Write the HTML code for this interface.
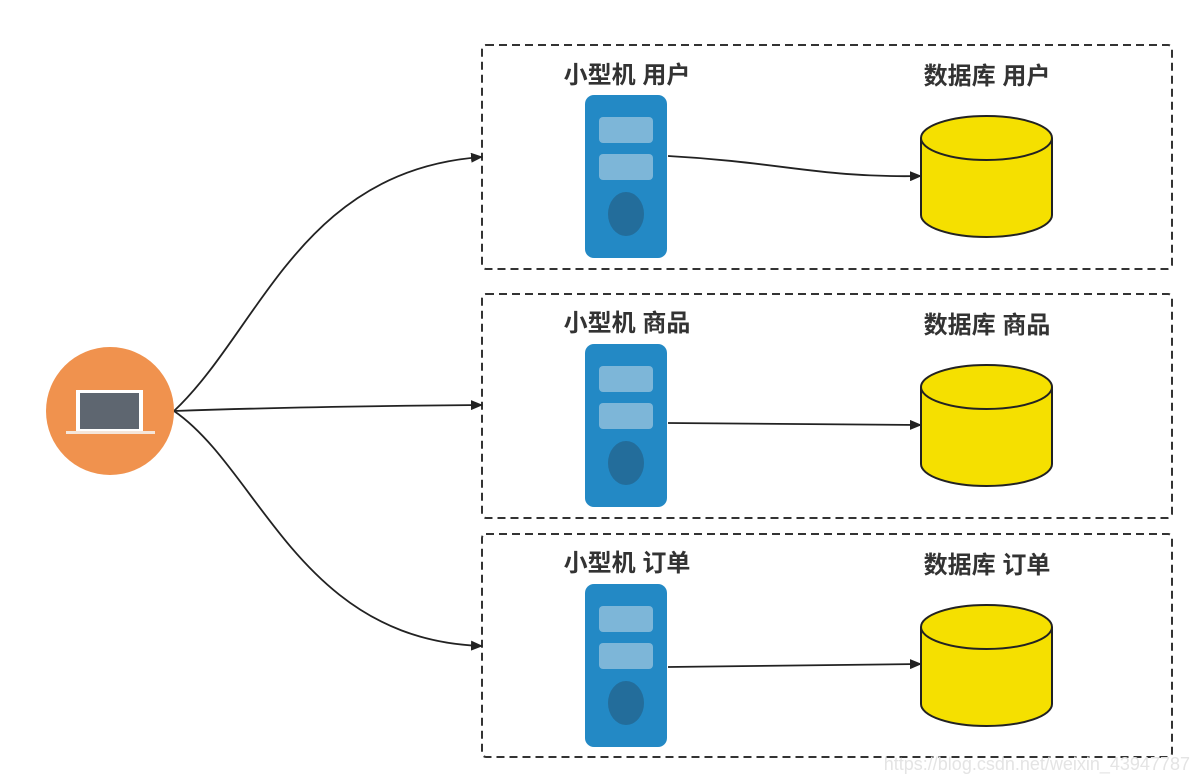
<!DOCTYPE html>
<html><head><meta charset="utf-8"><style>
html,body{margin:0;padding:0;background:#fff;width:1194px;height:778px;overflow:hidden}
text{font-family:"Liberation Sans","Noto Sans CJK SC",sans-serif;font-weight:bold;font-size:24px;fill:#333}
</style></head><body>
<svg width="1194" height="778" viewBox="0 0 1194 778">
<defs>
<marker id="a" markerWidth="12" markerHeight="10" refX="11" refY="5" orient="auto" markerUnits="userSpaceOnUse">
<path d="M0,0 L12,5 L0,10 z" fill="#222"/></marker>
<g id="srv">
<rect x="0" y="0" width="82" height="163" rx="9" fill="#2389c5"/>
<rect x="14" y="22" width="54" height="26" rx="4" fill="#7db6d8"/>
<rect x="14" y="59" width="54" height="26" rx="4" fill="#7db6d8"/>
<ellipse cx="41" cy="119" rx="18" ry="22" fill="#236d9b"/>
</g>
<g id="db">
<path d="M0,22 L0,99 A65.5,22 0 0 0 131,99 L131,22" fill="#f5e000" stroke="#222" stroke-width="2"/>
<ellipse cx="65.5" cy="22" rx="65.5" ry="22" fill="#f5e000" stroke="#222" stroke-width="2"/>
</g>
</defs>
<g fill="none" stroke="#333" stroke-width="2" stroke-dasharray="8,5">
<rect x="482" y="45" width="690" height="224" rx="4"/>
<rect x="482" y="294" width="690" height="224" rx="4"/>
<rect x="482" y="534" width="690" height="223" rx="4"/>
</g>
<use href="#srv" x="585" y="95"/>
<use href="#srv" x="585" y="344"/>
<use href="#srv" x="585" y="584"/>
<use href="#db" x="921" y="116"/>
<use href="#db" x="921" y="365"/>
<use href="#db" x="921" y="605"/>
<text x="627" y="83" text-anchor="middle">小型机 用户</text>
<text x="987" y="84" text-anchor="middle">数据库 用户</text>
<text x="627" y="331" text-anchor="middle">小型机 商品</text>
<text x="987" y="333" text-anchor="middle">数据库 商品</text>
<text x="627" y="571" text-anchor="middle">小型机 订单</text>
<text x="987" y="573" text-anchor="middle">数据库 订单</text>
<g fill="none" stroke="#222" stroke-width="1.8">
<path d="M174,411 C260,330 300,170 482,157" marker-end="url(#a)"/>
<path d="M174,411 C260,408 360,406 482,405" marker-end="url(#a)"/>
<path d="M174,411 C260,470 300,640 482,646" marker-end="url(#a)"/>
<path d="M668,156 C780,162 820,178 921,176" marker-end="url(#a)"/>
<path d="M668,423 L921,425" marker-end="url(#a)"/>
<path d="M668,667 L921,664" marker-end="url(#a)"/>
</g>
<circle cx="110" cy="411" r="64" fill="#f0924e"/>
<rect x="76" y="390" width="67" height="42" fill="#fff"/>
<rect x="80" y="393" width="59" height="36" fill="#5e6670"/>
<rect x="66" y="431" width="89" height="3" fill="#f5e6da"/>
<text x="1190" y="770" text-anchor="end" style="font-size:18px;font-weight:normal;fill:#e4e4e4">https://blog.csdn.net/weixin_43947787</text>
</svg>
</body></html>
